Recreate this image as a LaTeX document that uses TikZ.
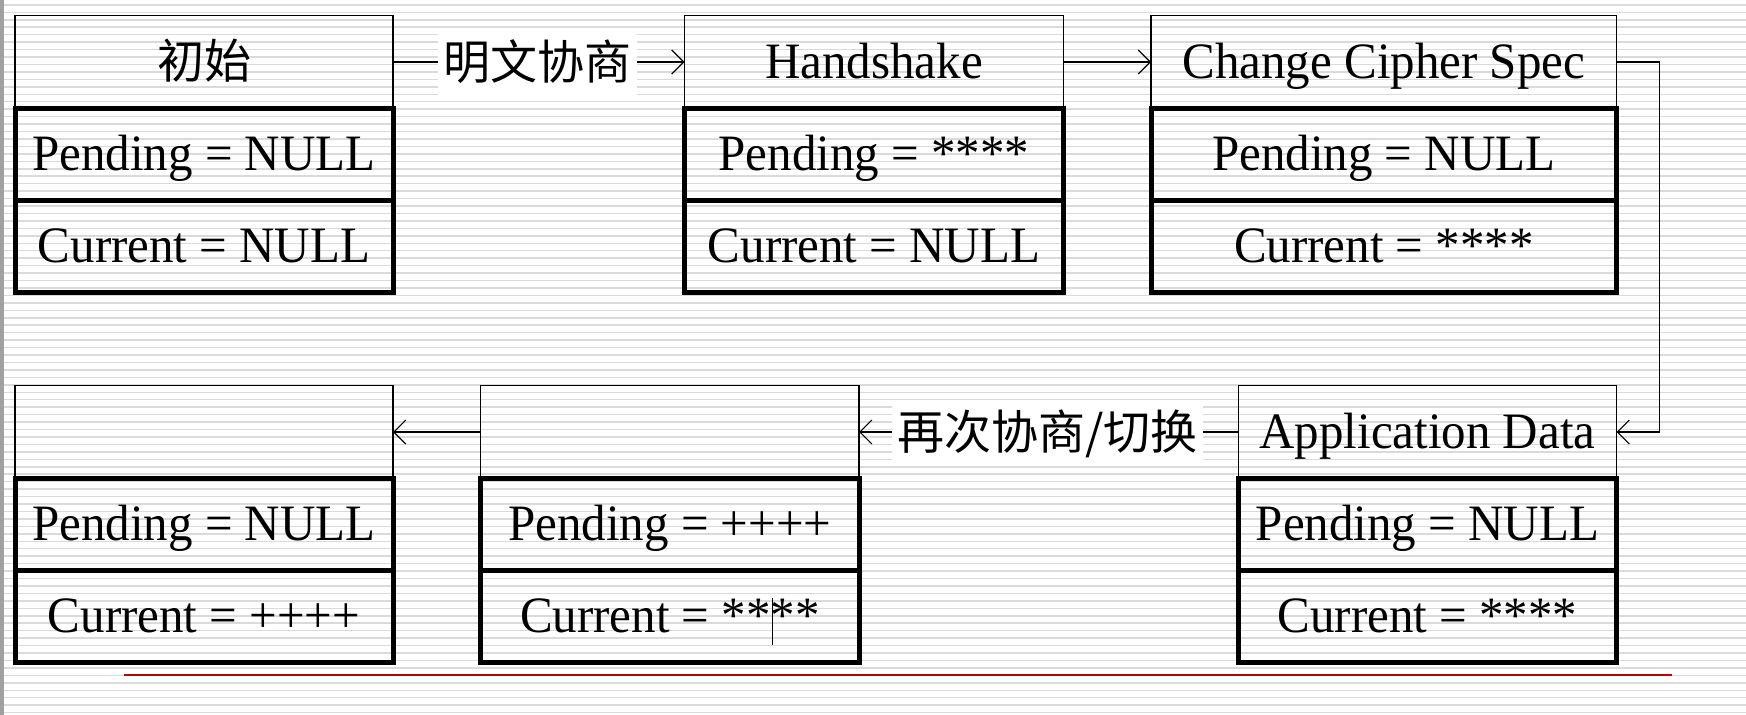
\documentclass[tikz,border=0pt]{standalone}
\usepackage{fontspec}
\setmainfont{Liberation Serif}[FakeStretch=0.96]
\newfontfamily\cjk{Noto Sans CJK SC}
\usetikzlibrary{arrows.meta}
\definecolor{stripe}{RGB}{218,218,218}
\definecolor{edgegray}{RGB}{160,160,160}
\definecolor{darkred}{RGB}{192,0,0}
\newcommand\bigtxt{\fontsize{51}{55}\selectfont}
\newcommand\cjktxt{\cjk\fontsize{47}{50}\selectfont}
\begin{document}
\begin{tikzpicture}[x=1pt,y=-1pt,
  every node/.style={inner sep=0pt, outer sep=0pt},
  titlebox/.style={draw, line width=1.2pt, minimum height=93pt, text height=33pt, text depth=1pt, font=\bigtxt},
  cellbox/.style={draw, line width=5pt, minimum height=92pt, text height=33pt, text depth=1pt, font=\bigtxt},
  edgelabel/.style={fill=white, font=\cjktxt, text height=35pt, text depth=1pt},
  conn/.style={line width=1.2pt},
  arr/.style={conn, -{Straight Barb[length=12pt,width=24pt]}},
]
% background
\fill[white] (0,0) rectangle (1746,715);
\foreach \k in {0,...,95} \fill[stripe] (3.5,{4.1+7.45*\k}) rectangle (1746,{5.6+7.45*\k});
\fill[edgegray] (0,0) rectangle (3.5,715);
\useasboundingbox (0,0) rectangle (1746,715);

% state 1
\node[titlebox, minimum width=378pt] (s1t) at (204,62) {\cjktxt 初始};
\node[cellbox, minimum width=378pt] (s1p) at (204,154.5) {Pending = NULL};
\node[cellbox, minimum width=378pt] (s1c) at (204,246.5) {Current = NULL};
% state 2
\node[titlebox, minimum width=379pt] (s2t) at (874,62) {Handshake};
\node[cellbox, minimum width=379pt] (s2p) at (874,154.5) {Pending = ****};
\node[cellbox, minimum width=379pt] (s2c) at (874,246.5) {Current = NULL};
% state 3
\node[titlebox, minimum width=465.7pt] (s3t) at (1383.85,62) {Change Cipher Spec};
\node[cellbox, minimum width=465.7pt] (s3p) at (1383.85,154.5) {Pending = NULL};
\node[cellbox, minimum width=465.7pt] (s3c) at (1383.85,246.5) {Current = ****};
% state 4
\node[titlebox, minimum width=378pt] (s4t) at (204,432) {};
\node[cellbox, minimum width=378pt] (s4p) at (204,524.5) {Pending = NULL};
\node[cellbox, minimum width=378pt] (s4c) at (204,616.5) {Current = ++++};
% state 5
\node[titlebox, minimum width=378.3pt] (s5t) at (669.85,432) {};
\node[cellbox, minimum width=378.3pt] (s5p) at (669.85,524.5) {Pending = ++++};
\node[cellbox, minimum width=378.3pt] (s5c) at (669.85,616.5) {Current = ****};
% state 6
\node[titlebox, minimum width=378pt] (s6t) at (1427.5,432) {Application Data};
\node[cellbox, minimum width=378pt] (s6p) at (1427.5,524.5) {Pending = NULL};
\node[cellbox, minimum width=378pt] (s6c) at (1427.5,616.5) {Current = ****};

% labels
\node[edgelabel, minimum width=199pt, minimum height=67pt] (l1) at (537.5,62) {明文协商};
\node[edgelabel, minimum width=311pt, minimum height=64pt] (l2) at (1047.5,432) {再次协商/切换};

% connectors
\draw[conn] (s1t.east) -- (l1.west);
\draw[arr] (l1.east) -- (s2t.west);
\draw[arr] (s2t.east) -- (s3t.west);
\draw[arr] (s3t.east) -- ++(43,0) |- (s6t.east);
\draw[conn] (s6t.west) -- (l2.east);
\draw[arr] (l2.west) -- (s5t.east);
\draw[arr] (s5t.west) -- (s4t.east);

% text cursor and red rule
\draw[line width=1pt] (772,598) -- (772,645);
\draw[darkred, line width=1.2pt] (124,675) -- (1672,675);
\end{tikzpicture}
\end{document}
